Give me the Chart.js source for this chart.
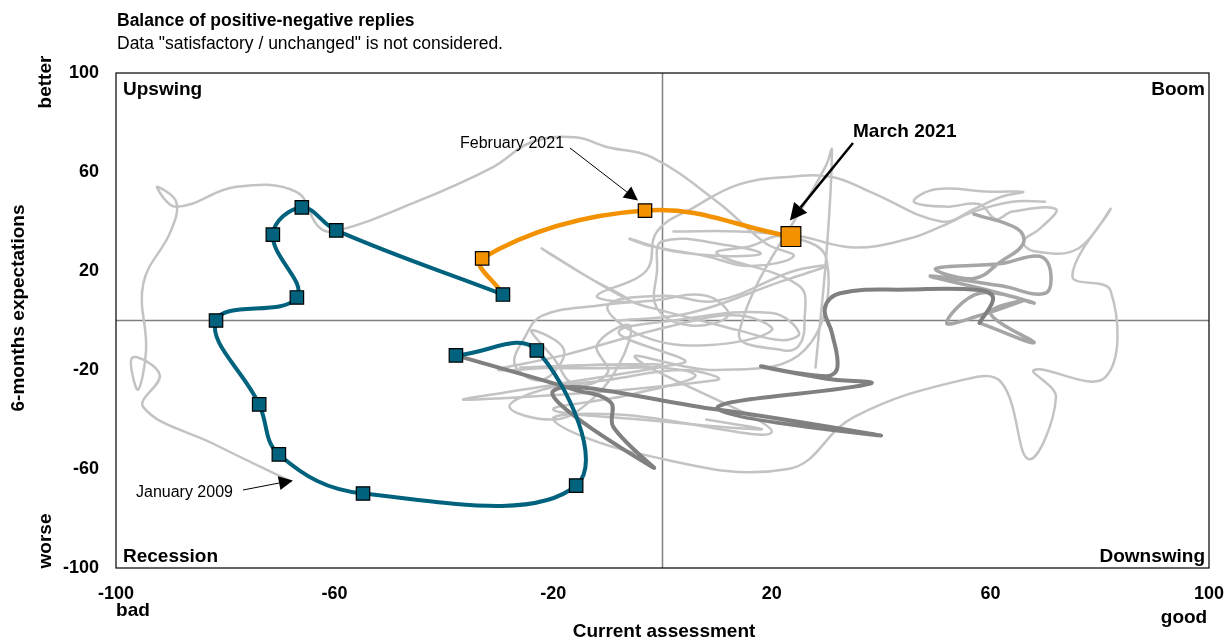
<!DOCTYPE html>
<html>
<head>
<meta charset="utf-8">
<script src="https://cdn.jsdelivr.net/npm/chart.js@4.4.1/dist/chart.umd.min.js"></script>
<style>
  html, body { margin: 0; padding: 0; background: #fff; }
  #wrap { width: 1225px; height: 640px; }
</style>
</head>
<body>
<div id="wrap"><canvas id="chart" width="1225" height="640"></canvas></div>
<script>
// ---- data (balance values, current assessment x / expectations y) ----
const xTicks = [-100, -60, -20, 20, 60, 100];
const yTicks = [-100, -60, -20, 20, 60, 100];

// 2009 - 2016 history
const historyX = [-68,-82,-95,-92,-97,-96,-94.5,-95,-90,-89,-92.5,-89,-78,-67,-63,-60,-45,-31,-24,-16,-10,-2,10,19,
  24,16,8,-2,-6,2,12,18,13,0,-1,-1,5,12,8,-2,-12,-22,-25,-27,-22,-18,-24,-20,-16,-10,-12,-6,-8,-14,-20,-28,-22,-10,4,10,
  -36,-20,0,-26,4,-8,2,20,25,22,14,7,0,-6,-22,-14,-6,-12,-3,-1,6,14,23,31,38,51,57,62,66,60,50,46,52,58,61,64,72,69,66,68,76,82,75,82,
  81,68,72,67,62,55,35,23,-4,-20,-8,20,-5,10,26,30,22,16,10,25,26,25,22,14,30,31,30,28];
const historyY = [-65,-50,-35,-22,-15,-28,-12,15,36,48,54,46,54,52,38,36,48,62,72,74,70,66,48,31,
  26,22,26,30,33,28,26,27,30,32,20,5,-2,2,10,8,6,2,-6,-18,-24,-12,-4,-15,-26,-21,-10,-2,-18,-34,-40,-35,-28,-24,-20,-24,
  -32,-26,-18,-19,-17,-5,0,3,-5,-8,-4,0,4,8,29,18,8,10,20,36,46,55,58,58,52,40,45,50,52,52,53,48,46,47,41,44,45,37,32,28,29,45,18,12,
  -23,-20,-31,-56,-25,-24,-39,-60,-54,-40,-38,-45,-15,-20,-12,25,34,30,27,14,0,-10,-12,-5,63,69,27,-19];

// 2017 stretch through the boom quadrant
const history2X = [2,14,25,35,45,51,57,64,70];
const history2Y = [36,36,34,29.5,33,38,44,48,48];

// further wandering around the centre
const history3X = [-8,5,22,30,24,10,0,-10,-4,8,20,14,2,-18,-30,-10,6,-6,-20,-4,18,8];
const history3Y = [0,3,16,22,20,8,10,6,-6,-10,-4,2,-2,-14,-20,-18,-22,-30,-36,-40,-44,-40];

// 2018
const mediumX = [57,65,66,62,57,50,62,69,71,70,62,49,60,68,58,52,58,66,60,68,58];
const mediumY = [43,37,31,24,17,21,23,26,20,11,14,18,12,7,11,-1,2,8,3,-9,-1];

// 2019
const darkX = [58,60.5,58,45,32.5,29.7,31,32,30,18,30,38,10,40,10,-20,-1.7,-9,-9.5,-16,-37.8];
const darkY = [-1,9,12.3,12.5,11,5,-5,-19,-22.5,-18.5,-23.5,-25.5,-35.5,-46.5,-36,-28.5,-59.4,-43,-33,-28,-14.1];

// 2020, January - December
const y2020X = [-37.8,-23.0,-15.8,-54.8,-70.2,-73.8,-81.7,-66.9,-71.3,-66.0,-59.7,-29.2];
const y2020Y = [-14.1,-12.1,-66.7,-69.9,-54.1,-33.9,0.0,9.3,34.7,45.7,36.4,10.5];

// December 2020 - March 2021
const y2021X = [-29.2,-33.0,-3.2,23.5];
const y2021Y = [10.5,25.1,44.4,33.9];

const zip = (xs, ys) => xs.map((x, i) => ({ x: x, y: ys[i] }));

const FONT = '"Liberation Sans", Arial, sans-serif';

const decorations = {
  id: 'decorations',
  beforeDatasetsDraw(chart) {
    const { ctx, chartArea: a, scales: { x, y } } = chart;
    ctx.save();
    ctx.strokeStyle = '#808080';
    ctx.lineWidth = 1.5;
    ctx.beginPath();
    const x0 = x.getPixelForValue(0), y0 = y.getPixelForValue(0);
    ctx.moveTo(x0, a.top); ctx.lineTo(x0, a.bottom);
    ctx.moveTo(a.left, y0); ctx.lineTo(a.right, y0);
    ctx.stroke();
    ctx.restore();
  },
  afterDraw(chart) {
    const { ctx, chartArea: a, scales: { x, y } } = chart;
    ctx.save();
    // frame
    ctx.strokeStyle = '#000';
    ctx.lineWidth = 1.2;
    ctx.strokeRect(a.left, a.top, a.right - a.left, a.bottom - a.top);

    ctx.fillStyle = '#000';
    ctx.textBaseline = 'alphabetic';
    // title
    ctx.textAlign = 'left';
    ctx.font = 'bold 17.5px ' + FONT;
    ctx.fillText('Balance of positive-negative replies', 117, 26);
    ctx.font = '17.5px ' + FONT;
    ctx.fillText('Data "satisfactory / unchanged" is not considered.', 117, 49);

    // quadrants
    ctx.font = 'bold 19px ' + FONT;
    ctx.fillText('Upswing', a.left + 7, a.top + 22);
    ctx.fillText('Recession', a.left + 7, a.bottom - 6);
    ctx.textAlign = 'right';
    ctx.fillText('Boom', a.right - 4, a.top + 22);
    ctx.fillText('Downswing', a.right - 4, a.bottom - 6);

    // x axis words
    ctx.textAlign = 'center';
    ctx.fillText('bad', 133, 616);
    ctx.fillText('good', 1184, 623);
    ctx.fillText('Current assessment', 664, 637);

    // y axis words
    ctx.textBaseline = 'middle';
    const vtext = (t, cx, cy) => {
      ctx.save();
      ctx.translate(cx, cy);
      ctx.rotate(-Math.PI / 2);
      ctx.fillText(t, 0, 0);
      ctx.restore();
    };
    vtext('6-months expectations', 19, 308);
    vtext('better', 46, 82);
    vtext('worse', 46, 541);
    ctx.textBaseline = 'alphabetic';

    // annotations
    const arrow = (x1, y1, x2, y2, w, head) => {
      const ang = Math.atan2(y2 - y1, x2 - x1);
      const bx = x2 - head * Math.cos(ang), by = y2 - head * Math.sin(ang);
      ctx.lineWidth = w;
      ctx.beginPath(); ctx.moveTo(x1, y1); ctx.lineTo(bx, by); ctx.stroke();
      ctx.beginPath();
      ctx.moveTo(x2, y2);
      ctx.lineTo(bx + head * 0.5 * Math.sin(ang), by - head * 0.5 * Math.cos(ang));
      ctx.lineTo(bx - head * 0.5 * Math.sin(ang), by + head * 0.5 * Math.cos(ang));
      ctx.closePath(); ctx.fill();
    };
    ctx.strokeStyle = '#000';
    const feb = { px: x.getPixelForValue(y2021X[2]), py: y.getPixelForValue(y2021Y[2]) };
    const mar = { px: x.getPixelForValue(y2021X[3]), py: y.getPixelForValue(y2021Y[3]) };
    const jan = { px: x.getPixelForValue(historyX[0]), py: y.getPixelForValue(historyY[0]) };

    ctx.textAlign = 'left';
    ctx.font = '16px ' + FONT;
    ctx.fillText('February 2021', 460, 148);
    arrow(570, 148, feb.px - 7, feb.py - 10, 1, 14);

    ctx.font = 'bold 19px ' + FONT;
    ctx.fillText('March 2021', 853, 137);
    arrow(853, 143, mar.px - 1, mar.py - 16, 2.5, 17);

    ctx.font = '16px ' + FONT;
    ctx.fillText('January 2009', 136, 497);
    arrow(243, 490, jan.px + 2, jan.py - 1, 1, 14);
    ctx.restore();
  }
};

const lineSet = (label, data, color, width, order) => ({
  label, data, showLine: true, borderColor: color, borderWidth: width,
  pointRadius: 0, tension: 0.4, fill: false, order,
  borderCapStyle: 'round', borderJoinStyle: 'round'
});

new Chart(document.getElementById('chart'), {
  type: 'scatter',
  data: {
    datasets: [
      {
        label: '2020', data: zip(y2020X, y2020Y), showLine: true, tension: 0.4,
        borderColor: '#00627d', borderWidth: 4, order: 0,
        pointStyle: 'rect', pointRadius: 9.5, pointBackgroundColor: '#00627d',
        pointBorderColor: '#000', pointBorderWidth: 1.2
      },
      {
        label: '2021', data: zip(y2021X, y2021Y), showLine: true, tension: 0.4,
        borderColor: '#f39200', borderWidth: 4.5, order: 1,
        pointStyle: 'rect', pointRadius: [0, 9.5, 9.5, 14], pointBackgroundColor: '#f39200',
        pointBorderColor: '#000', pointBorderWidth: 1.2
      },
      lineSet('2019', zip(darkX, darkY), '#808080', 4, 2),
      lineSet('2018', zip(mediumX, mediumY), '#a6a6a6', 3.5, 3),
      lineSet('2009-2016', zip(historyX, historyY), '#c3c3c3', 2.5, 4),
      lineSet('2017', zip(history2X, history2Y), '#c3c3c3', 2.5, 5),
      lineSet('centre', zip(history3X, history3Y), '#c3c3c3', 2.5, 6)
    ]
  },
  options: {
    responsive: false,
    animation: false,
    devicePixelRatio: 1,
    layout: { padding: { top: 73, right: 16, bottom: 0, left: 0 } },
    plugins: { legend: { display: false }, tooltip: { enabled: false } },
    scales: {
      x: {
        type: 'linear', min: -100, max: 100,
        afterBuildTicks: s => { s.ticks = xTicks.map(v => ({ value: v })); },
        afterFit: s => { s.height = 72; s.paddingLeft = 0; s.paddingRight = 0; },
        grid: { display: false, drawTicks: false },
        border: { display: false },
        ticks: { padding: 15, color: '#000', font: { family: FONT, size: 18, weight: 'bold' } }
      },
      y: {
        type: 'linear', min: -100, max: 100,
        afterBuildTicks: s => { s.ticks = yTicks.map(v => ({ value: v })); },
        afterFit: s => { s.width = 116; s.paddingTop = 0; s.paddingBottom = 0; },
        grid: { display: false, drawTicks: false },
        border: { display: false },
        ticks: { padding: 17, color: '#000', font: { family: FONT, size: 18, weight: 'bold' } }
      }
    }
  },
  plugins: [decorations]
});
</script>
</body>
</html>
